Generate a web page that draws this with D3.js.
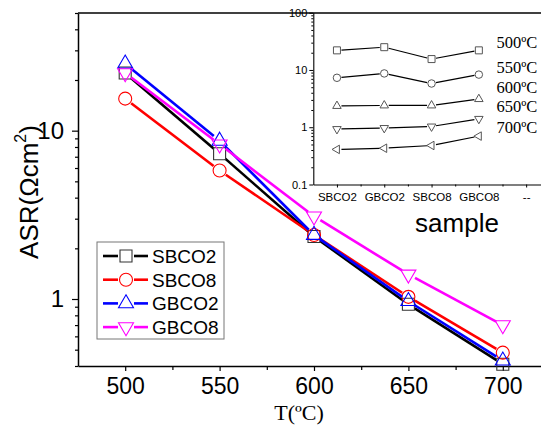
<!DOCTYPE html>
<html>
<head>
<meta charset="utf-8">
<script src="https://cdn.jsdelivr.net/npm/d3@7"></script>
<style>
  body { margin: 0; background: #fff; }
  svg { display: block; font-family: "Liberation Sans", Arial, sans-serif; }
</style>
</head>
<body>
<div id="chart"></div>
<script>
// main plot data: ASR vs temperature for each sample
var temps = [500, 550, 600, 650, 700];
var samples = ["SBCO2", "SBCO8", "GBCO2", "GBCO8"];
var SBCO2 = [22, 7.3, 2.35, 0.93, 0.41];
var SBCO8 = [15.5, 5.8, 2.4, 1.03, 0.48];
var GBCO2 = [25, 8.7, 2.4, 0.97, 0.43];
var GBCO8 = [22, 8.3, 3.1, 1.4, 0.70];
var xTicks = [500, 550, 600, 650, 700];
var yTicks = [1, 10];

// inset data: ASR vs sample for each temperature
var insetSamples = ["SBCO2", "GBCO2", "SBCO8", "GBCO8", "--"];
var insetTemps = ["500ºC", "550ºC", "600ºC", "650ºC", "700ºC"];
var ins500 = [22, 25, 15.5, 22];
var ins550 = [7.3, 8.7, 5.8, 8.3];
var ins600 = [2.35, 2.4, 2.4, 3.1];
var ins650 = [0.93, 0.97, 1.03, 1.4];
var ins700 = [0.41, 0.43, 0.48, 0.70];
var insetYTicks = [0.1, 1, 10, 100];

var W = 541, H = 425;
var svg = d3.select("#chart").append("svg").attr("width", W).attr("height", H);

// ---------- main plot ----------
var x = d3.scaleLinear().domain([475, 725]).range([78, 550]);
var y = d3.scaleLog().domain([0.4, 50]).range([366, 13]);

function minorLog(lo, hi) {
  var out = [];
  for (var d = Math.pow(10, Math.floor(Math.log10(lo))); d < hi; d *= 10)
    for (var k = 2; k <= 9; k++) {
      var v = +(k * d).toPrecision(3);
      if (v >= lo && v <= hi) out.push(v);
    }
  return out;
}

var gx = svg.append("g").attr("transform", "translate(0,366)");
gx.call(d3.axisBottom(x).tickValues(xTicks).tickSize(5).tickPadding(7).tickSizeOuter(0));
gx.selectAll(".tick text").attr("font-size", 23).attr("font-family", "Liberation Sans, Arial");
svg.append("g").attr("transform", "translate(0,366)")
  .call(d3.axisBottom(x).tickValues([525, 575, 625, 675, 725]).tickSize(4).tickFormat("").tickSizeOuter(0))
  .select(".domain").remove();

var gy = svg.append("g").attr("transform", "translate(78,0)");
gy.call(d3.axisLeft(y).tickValues(yTicks).tickSize(6).tickPadding(8).tickFormat(d3.format("d")).tickSizeOuter(0));
gy.selectAll(".tick text").attr("font-size", 24).attr("font-family", "Liberation Sans, Arial");
svg.append("g").attr("transform", "translate(78,0)")
  .call(d3.axisLeft(y).tickValues(minorLog(0.4, 50)).tickSize(3).tickFormat("").tickSizeOuter(0))
  .select(".domain").remove();

svg.selectAll(".domain").attr("stroke-width", 1.5);
svg.selectAll(".tick line").attr("stroke-width", 1.2);

// top frame line
svg.append("line").attr("x1", 78).attr("x2", W).attr("y1", 13).attr("y2", 13)
  .attr("stroke", "#000").attr("stroke-width", 1.5);

// axis titles
svg.append("text").attr("x", 299).attr("y", 419.5).attr("text-anchor", "middle")
  .attr("font-family", "Liberation Serif, Times New Roman, serif").attr("font-size", 22)
  .text("T(ºC)");
var yl = svg.append("text").attr("transform", "translate(38,192) rotate(-90)")
  .attr("text-anchor", "middle").attr("font-size", 26);
yl.append("tspan").text("ASR(Ωcm");
yl.append("tspan").attr("font-size", 16).attr("dy", -12).text("2");
yl.append("tspan").attr("dy", 12).text(")");

function markerPath(shape, size) {
  if (shape === "square") return d3.symbol(d3.symbolSquare, size * size)();
  if (shape === "circle") return d3.symbol(d3.symbolCircle, Math.PI * size * size / 4)();
  // triangles with side = size
  var h = size * Math.sqrt(3) / 2, s = size / 2;
  var pts;
  if (shape === "up") pts = [[0, -h * 2 / 3], [s, h / 3], [-s, h / 3]];
  else if (shape === "down") pts = [[0, h * 2 / 3], [s, -h / 3], [-s, -h / 3]];
  else pts = [[-h * 2 / 3, 0], [h / 3, -s], [h / 3, s]];
  return "M" + pts.map(function(p) { return p.join(","); }).join("L") + "Z";
}

// segments between points, shortened to leave a gap round each symbol
function gapSegments(pts, gap) {
  var segs = [];
  for (var i = 0; i < pts.length - 1; i++) {
    var a = pts[i], b = pts[i + 1];
    var dx = b[0] - a[0], dy = b[1] - a[1], L = Math.sqrt(dx * dx + dy * dy);
    if (L <= 2 * gap) continue;
    var ux = dx / L, uy = dy / L;
    segs.push([a[0] + ux * gap, a[1] + uy * gap, b[0] - ux * gap, b[1] - uy * gap]);
  }
  return segs;
}

var mainSeries = [
  { name: samples[0], values: SBCO2, color: "#000000", mcolor: "#333", shape: "square" },
  { name: samples[1], values: SBCO8, color: "#ff0000", mcolor: "#ff0000", shape: "circle" },
  { name: samples[2], values: GBCO2, color: "#0000ff", mcolor: "#0000ff", shape: "up" },
  { name: samples[3], values: GBCO8, color: "#ff00ff", mcolor: "#ff00ff", shape: "down" }
];
function mainSize(shape) { return shape === "circle" ? 13 : (shape === "square" ? 12 : 15); }

var plot = svg.append("g");
mainSeries.forEach(function(s) {
  var pts = temps.map(function(t, i) { return [x(t), y(s.values[i])]; });
  var g = plot.append("g");
  g.selectAll("line").data(gapSegments(pts, 7.5)).enter().append("line")
    .attr("x1", function(d) { return d[0]; }).attr("y1", function(d) { return d[1]; })
    .attr("x2", function(d) { return d[2]; }).attr("y2", function(d) { return d[3]; })
    .attr("stroke", s.color).attr("stroke-width", 2.6);
  g.selectAll("path").data(pts).enter().append("path")
    .attr("d", markerPath(s.shape, mainSize(s.shape)))
    .attr("transform", function(d) { return "translate(" + d[0] + "," + d[1] + ")"; })
    .attr("fill", "none").attr("stroke", s.mcolor).attr("stroke-width", 1.1);
});

// legend
var leg = svg.append("g");
leg.append("rect").attr("x", 97).attr("y", 242).attr("width", 127).attr("height", 97)
  .attr("fill", "#fff").attr("stroke", "#777").attr("stroke-width", 1);
mainSeries.forEach(function(s, i) {
  var ly = 256 + i * 23.7;
  leg.append("line").attr("x1", 103).attr("x2", 118).attr("y1", ly).attr("y2", ly)
    .attr("stroke", s.color).attr("stroke-width", 2.6);
  leg.append("line").attr("x1", 134).attr("x2", 148).attr("y1", ly).attr("y2", ly)
    .attr("stroke", s.color).attr("stroke-width", 2.6);
  leg.append("path").attr("d", markerPath(s.shape, mainSize(s.shape)))
    .attr("transform", "translate(126," + ly + ")")
    .attr("fill", "none").attr("stroke", s.mcolor).attr("stroke-width", 1.1);
  leg.append("text").attr("x", 152).attr("y", ly).attr("dy", "0.36em")
    .attr("font-size", 19).text(s.name);
});

// ---------- inset ----------
var xi = d3.scaleLinear().domain([0.5, 5.5]).range([313.3, 549.8]);
var yi = d3.scaleLog().domain([0.1, 100]).range([184.5, 12.7]);

var gxi = svg.append("g").attr("transform", "translate(0,184.5)");
gxi.call(d3.axisBottom(xi).tickValues([1, 2, 3, 4, 5])
  .tickFormat(function(d) { return insetSamples[d - 1]; })
  .tickSize(3).tickPadding(5).tickSizeOuter(0));
gxi.selectAll(".tick text").attr("font-size", 11.5);
svg.append("g").attr("transform", "translate(0,184.5)")
  .call(d3.axisBottom(xi).tickValues([1.5, 2.5, 3.5, 4.5, 5.5]).tickSize(2).tickFormat("").tickSizeOuter(0))
  .select(".domain").remove();

var gyi = svg.append("g").attr("transform", "translate(313.3,0)");
gyi.call(d3.axisLeft(yi).tickValues(insetYTicks).tickSize(4).tickPadding(2)
  .tickFormat(function(d) { return String(d); }).tickSizeOuter(0));
gyi.selectAll(".tick text").attr("font-size", 11);
svg.append("g").attr("transform", "translate(313.3,0)")
  .call(d3.axisLeft(yi).tickValues(minorLog(0.1, 100)).tickSize(2).tickFormat("").tickSizeOuter(0))
  .select(".domain").remove();

gxi.select(".domain").attr("stroke-width", 1.1);
gyi.select(".domain").attr("stroke-width", 1.1);

svg.append("text").attr("x", 457).attr("y", 231.5).attr("text-anchor", "middle")
  .attr("font-size", 26).text("sample");

var insetSeries = [
  { values: ins500, shape: "square", size: 7 },
  { values: ins550, shape: "circle", size: 7.5 },
  { values: ins600, shape: "up", size: 8.5 },
  { values: ins650, shape: "down", size: 8.5 },
  { values: ins700, shape: "left", size: 8.5 }
];
var inset = svg.append("g");
insetSeries.forEach(function(s) {
  var pts = s.values.map(function(v, i) { return [xi(i + 1), yi(v)]; });
  var g = inset.append("g");
  g.selectAll("line").data(gapSegments(pts, 4.5)).enter().append("line")
    .attr("x1", function(d) { return d[0]; }).attr("y1", function(d) { return d[1]; })
    .attr("x2", function(d) { return d[2]; }).attr("y2", function(d) { return d[3]; })
    .attr("stroke", "#000").attr("stroke-width", 1.2);
  g.selectAll("path").data(pts).enter().append("path")
    .attr("d", markerPath(s.shape, s.size))
    .attr("transform", function(d) { return "translate(" + d[0] + "," + d[1] + ")"; })
    .attr("fill", "none").attr("stroke", "#555").attr("stroke-width", 1);
});

var labelY = [48, 73.3, 93.3, 111.7, 133.3];
svg.selectAll(".tlabel").data(insetTemps).enter().append("text")
  .attr("class", "tlabel")
  .attr("x", 496.5).attr("y", function(d, i) { return labelY[i]; })
  .attr("font-family", "Liberation Serif, Times New Roman, serif").attr("font-size", 16.5)
  .text(function(d) { return d; });
</script>
</body>
</html>
